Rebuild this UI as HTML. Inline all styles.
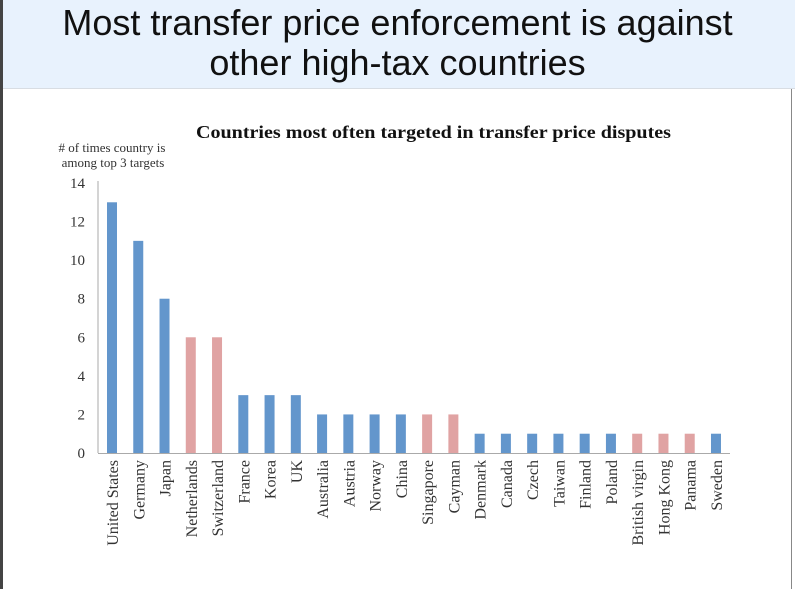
<!DOCTYPE html>
<html><head><meta charset="utf-8"><style>
body{margin:0;width:797px;height:589px;background:#fff;position:relative;overflow:hidden;font-family:"Liberation Sans",sans-serif}
#hdr{position:absolute;left:0;top:0;width:795px;height:88px;background:#e8f2fd;border-bottom:1px solid #d8dde3}
#hdr div{text-align:center;font-size:36px;line-height:40px;color:#111;padding-top:3px}
#lb{position:absolute;left:0;top:0;width:3px;height:589px;background:#444}
#rb{position:absolute;left:791px;top:89px;width:1px;height:500px;background:#888}
svg{position:absolute;left:0;top:0}
</style></head><body>
<div id="hdr"><div>Most transfer price enforcement is against<br>other high-tax countries</div></div>
<div id="lb"></div>
<div id="rb"></div>
<svg id="c" width="797" height="589" font-family="Liberation Serif, serif"></svg>
<script>
const categories=["United States","Germany","Japan","Netherlands","Switzerland","France","Korea","UK","Australia","Austria","Norway","China","Singapore","Cayman","Denmark","Canada","Czech","Taiwan","Finland","Poland","British virgin","Hong Kong","Panama","Sweden"];
const values=[13,11,8,6,6,3,3,3,2,2,2,2,2,2,1,1,1,1,1,1,1,1,1,1];
const lowTax=[0,0,0,1,1,0,0,0,0,0,0,0,1,1,0,0,0,0,0,0,1,1,1,0];
const yTicks=[0,2,4,6,8,10,12,14];
const svg=document.getElementById('c');const NS='http://www.w3.org/2000/svg';
function el(t,a,txt){const e=document.createElementNS(NS,t);for(const k in a)e.setAttribute(k,a[k]);if(txt!=null)e.textContent=txt;svg.appendChild(e);return e;}
const x0=98,x1=730,y0=453,yTop=183,ymax=14;
const y=v=>y0-(v/ymax)*(y0-yTop);
const step=26.26,first=112;
const x=i=>first+i*step;
let t=el('text',{x:196,y:138,'font-size':18,'font-weight':'bold',fill:'#111',textLength:475,lengthAdjust:'spacingAndGlyphs'},'Countries most often targeted in transfer price disputes');


t=el('text',{x:112,y:152,'text-anchor':'middle','font-size':13,fill:'#333'},'# of times country is');


t=el('text',{x:113,y:167,'text-anchor':'middle','font-size':13,fill:'#333'},'among top 3 targets');


yTicks.forEach(v=>{const e=el('text',{x:85,y:y(v)+5,'text-anchor':'end','font-size':15,fill:'#333'},v);

});
values.forEach((v,i)=>{const b=el('rect',{x:x(i)-5,y:y(v),width:10,height:y0-y(v),fill:lowTax[i]?'#e0a3a3':'#6396cc'});


const l=el('text',{transform:`translate(${x(i)+6},460) rotate(-90)`,'text-anchor':'end','font-size':16,fill:'#333'},categories[i]);

});
let a=el('line',{x1:x0,y1:yTop-2,x2:x0,y2:y0,stroke:'#aaa','stroke-width':1});


a=el('line',{x1:x0,y1:y0+0.5,x2:x1,y2:y0+0.5,stroke:'#aaa','stroke-width':1});


</script>
</body></html>
